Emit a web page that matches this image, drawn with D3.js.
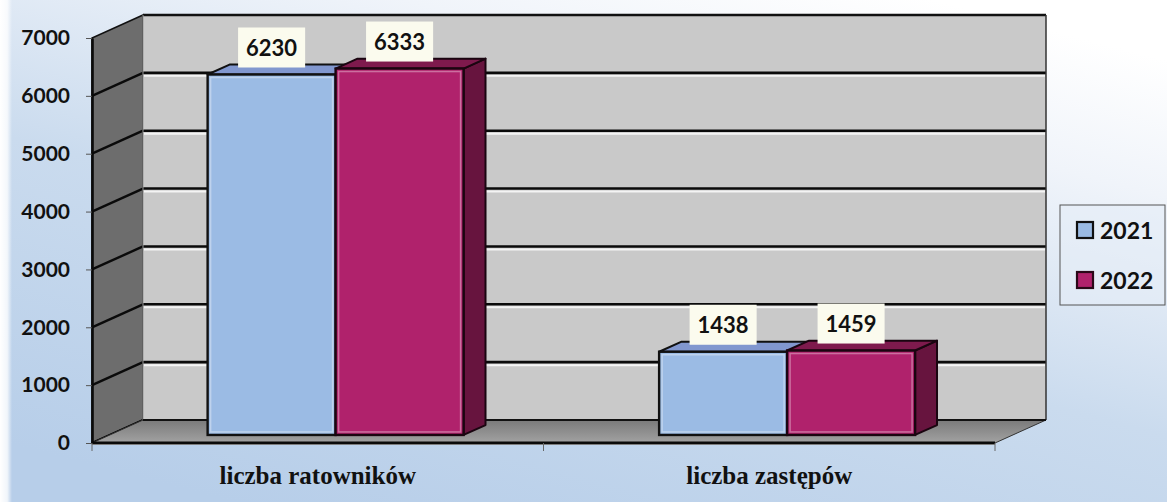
<!DOCTYPE html>
<html>
<head>
<meta charset="utf-8">
<script src="https://cdn.jsdelivr.net/npm/d3@7"></script>
<style>
  html, body { margin: 0; padding: 0; background: #fff; }
  svg { display: block; }
</style>
</head>
<body>
<svg id="chart" width="1167" height="502"></svg>
<script>
// ---- data ----
const categories = ["liczba ratowników", "liczba zastępów"];
const series = ["2021", "2022"];
const values2021 = [6230, 1438];
const values2022 = [6333, 1459];
const yTickValues = [0, 1000, 2000, 3000, 4000, 5000, 6000, 7000];

// ---- layout ----
const W = 1167, H = 502;
const svg = d3.select("#chart");
const frontLeft = 92, frontRight = 995, y0 = 443, yTop = 38;
const depthDX = 51, depthDY = -23;
const barZ0 = 0.35, barZ1 = 0.78;

const y = d3.scaleLinear().domain([0, 7000]).range([y0, yTop]);
const xCat = d3.scaleBand().domain(categories).range([frontLeft, frontRight]);
const xSer = d3.scaleBand().domain(series).range([0, xCat.bandwidth()]).paddingInner(0).paddingOuter(0.764);

const P = (x, yy, z) => [x + z * depthDX, yy + z * depthDY];
const poly = pts => "M" + pts.map(p => p.join(",")).join("L") + "Z";

// ---- background ----
const defs = svg.append("defs");
const bg = defs.append("linearGradient").attr("id", "bg")
  .attr("x1", "0.8").attr("y1", "0").attr("x2", "0.2").attr("y2", "1");
bg.append("stop").attr("offset", "0").attr("stop-color", "#ffffff");
bg.append("stop").attr("offset", "0.2").attr("stop-color", "#f0f4fa");
bg.append("stop").attr("offset", "0.55").attr("stop-color", "#cadbee");
bg.append("stop").attr("offset", "1").attr("stop-color", "#b7cee9");
svg.append("rect").attr("width", W).attr("height", H).attr("fill", "url(#bg)");
const lstrip = defs.append("linearGradient").attr("id", "lstrip").attr("x1", "0").attr("x2", "1").attr("y1", "0").attr("y2", "0");
lstrip.append("stop").attr("offset", "0").attr("stop-color", "#ffffff").attr("stop-opacity", 1);
lstrip.append("stop").attr("offset", "0.6").attr("stop-color", "#ffffff").attr("stop-opacity", 0.8);
lstrip.append("stop").attr("offset", "1").attr("stop-color", "#ffffff").attr("stop-opacity", 0);
svg.append("rect").attr("width", 12).attr("height", H).attr("fill", "url(#lstrip)");

const floorG = defs.append("linearGradient").attr("id", "floorG")
  .attr("x1", "0").attr("y1", "0").attr("x2", "0").attr("y2", "1");
floorG.append("stop").attr("offset", "0").attr("stop-color", "#7a7a7a");
floorG.append("stop").attr("offset", "1").attr("stop-color", "#a2a2a2");

// ---- walls ----
const vMax = 7000;
svg.append("path")
  .attr("d", poly([P(frontLeft, y(0), 0), P(frontLeft, y(vMax), 0), P(frontLeft, y(vMax), 1), P(frontLeft, y(0), 1)]))
  .attr("fill", "#6d6d6d").attr("stroke", "#111").attr("stroke-width", 1.5);
svg.append("path")
  .attr("d", poly([P(frontLeft, y(0), 1), P(frontLeft, y(vMax), 1), P(frontRight, y(vMax), 1), P(frontRight, y(0), 1)]))
  .attr("fill", "#c9c9c9").attr("stroke", "none");

const grid = yTickValues.filter(v => v > 0 && v < vMax);
svg.selectAll(".gridHi").data(grid).enter().append("line")
  .attr("x1", P(frontLeft, 0, 1)[0] + 1).attr("x2", P(frontRight, 0, 1)[0] - 1)
  .attr("y1", d => P(0, y(d), 1)[1] + 3).attr("y2", d => P(0, y(d), 1)[1] + 3)
  .attr("stroke", "#f4f4f4").attr("stroke-width", 2);
svg.selectAll(".gridBack").data(grid).enter().append("line")
  .attr("x1", P(frontLeft, 0, 1)[0]).attr("x2", P(frontRight, 0, 1)[0])
  .attr("y1", d => P(0, y(d), 1)[1]).attr("y2", d => P(0, y(d), 1)[1])
  .attr("stroke", "#0a0a0a").attr("stroke-width", 2.6);
svg.selectAll(".gridSide").data(grid.concat([0])).enter().append("line")
  .attr("x1", frontLeft).attr("y1", d => y(d))
  .attr("x2", P(frontLeft, 0, 1)[0]).attr("y2", d => P(0, y(d), 1)[1])
  .attr("stroke", "#0a0a0a").attr("stroke-width", 2.4);
svg.append("line")
  .attr("x1", P(frontLeft, 0, 1)[0]).attr("x2", P(frontRight, 0, 1)[0])
  .attr("y1", P(0, y(vMax), 1)[1]).attr("y2", P(0, y(vMax), 1)[1])
  .attr("stroke", "#111").attr("stroke-width", 2.4);
svg.append("line")
  .attr("x1", P(frontRight, 0, 1)[0]).attr("x2", P(frontRight, 0, 1)[0])
  .attr("y1", P(0, y(vMax), 1)[1]).attr("y2", P(0, y(0), 1)[1])
  .attr("stroke", "#333").attr("stroke-width", 1.5);
svg.append("line")
  .attr("x1", P(frontLeft, 0, 1)[0]).attr("x2", P(frontLeft, 0, 1)[0])
  .attr("y1", P(0, y(vMax), 1)[1]).attr("y2", P(0, y(0), 1)[1])
  .attr("stroke", "#9a9a9a").attr("stroke-width", 1);

// floor
svg.append("path")
  .attr("d", poly([P(frontLeft, y(0), 0), P(frontLeft, y(0), 1), P(frontRight, y(0), 1), P(frontRight, y(0), 0)]))
  .attr("fill", "url(#floorG)").attr("stroke", "#333").attr("stroke-width", 1);
svg.append("line")
  .attr("x1", P(frontLeft, 0, 1)[0]).attr("x2", P(frontRight, 0, 1)[0])
  .attr("y1", P(0, y(0), 1)[1]).attr("y2", P(0, y(0), 1)[1])
  .attr("stroke", "#111").attr("stroke-width", 2);
svg.append("line")
  .attr("x1", frontLeft).attr("x2", frontRight).attr("y1", y(0) + 1.5).attr("y2", y(0) + 1.5)
  .attr("stroke", "#f2f2f2").attr("stroke-width", 1.2);
svg.append("line")
  .attr("x1", frontLeft).attr("x2", frontRight).attr("y1", y(0)).attr("y2", y(0))
  .attr("stroke", "#0a0a0a").attr("stroke-width", 3);

// ---- bars ----
const colors = {
  "2021": { front: "#9bbbe4", top: "#8197cf", side: "#6d84b8", stroke: "#111" },
  "2022": { front: "#b0226c", top: "#7e1a4d", side: "#67143e", stroke: "#1a0510" }
};
const barData = [];
categories.forEach((c, i) => {
  barData.push({ cat: c, ser: "2021", value: values2021[i] });
  barData.push({ cat: c, ser: "2022", value: values2022[i] });
});

const barG = svg.append("g");
barData.forEach(d => {
  const xl = xCat(d.cat) + xSer(d.ser), xr = xl + xSer.bandwidth();
  const yb = y(0), yt = y(d.value);
  const col = colors[d.ser];
  const g = barG.append("g");
  g.append("path").attr("d", poly([P(xr, yb, barZ0), P(xr, yt, barZ0), P(xr, yt, barZ1), P(xr, yb, barZ1)]))
    .attr("fill", col.side).attr("stroke", col.stroke).attr("stroke-width", 2).attr("stroke-linejoin", "round");
  g.append("path").attr("d", poly([P(xl, yt, barZ0), P(xl, yt, barZ1), P(xr, yt, barZ1), P(xr, yt, barZ0)]))
    .attr("fill", col.top).attr("stroke", col.stroke).attr("stroke-width", 2).attr("stroke-linejoin", "round");
  const f0 = P(xl, yt, barZ0), f1 = P(xr, yb, barZ0);
  g.append("rect").attr("x", f0[0]).attr("y", f0[1]).attr("width", f1[0] - f0[0]).attr("height", f1[1] - f0[1])
    .attr("fill", col.front).attr("stroke", col.stroke).attr("stroke-width", 2.4);
  g.append("rect").attr("x", f0[0] + 3).attr("y", f0[1] + 3).attr("width", f1[0] - f0[0] - 6).attr("height", f1[1] - f0[1] - 6)
    .attr("fill", "none").attr("stroke", "#ffffff").attr("stroke-opacity", 0.35).attr("stroke-width", 1.5);
});

// ---- value labels ----
const lblG = svg.append("g");
barData.forEach(d => {
  const xl = xCat(d.cat) + xSer(d.ser), xr = xl + xSer.bandwidth();
  const cx = P((xl + xr) / 2, 0, barZ0)[0];
  const topFront = P(0, y(d.value), barZ0)[1];
  const boxBottom = topFront - 7, boxH = 40;
  const g = lblG.append("g");
  const rect = g.append("rect").attr("fill", "#fbfbee");
  const t = g.append("text").attr("x", cx).attr("y", boxBottom - boxH / 2)
    .attr("text-anchor", "middle").attr("dominant-baseline", "central")
    .style("font-family", "Lato, 'Open Sans', sans-serif").style("font-weight", "bold")
    .style("font-size", "22px").attr("fill", "#111").text(d.value);
  const w = t.node().getComputedTextLength() + 16;
  rect.attr("x", cx - w / 2).attr("y", boxBottom - boxH).attr("width", w).attr("height", boxH);
});

// ---- y axis ----
const yAxis = d3.axisLeft(y).tickValues(yTickValues).tickSize(6).tickSizeOuter(0).tickPadding(16).tickFormat(d3.format("d"));
const yG = svg.append("g").attr("transform", `translate(${frontLeft},0)`).call(yAxis);
yG.select(".domain").attr("stroke", "#0a0a0a").attr("stroke-width", 2.6);
yG.selectAll(".tick line").attr("stroke", "#555").attr("stroke-width", 1);
yG.selectAll(".tick text").style("font-family", "Lato, 'Open Sans', sans-serif").style("font-weight", "bold")
  .style("font-size", "21px").attr("fill", "#111");

// ---- category axis ----
const xAxis = d3.axisBottom(xCat).tickSize(0).tickPadding(0);
const xG = svg.append("g").attr("transform", `translate(0,${y0})`).call(xAxis)
  .attr("font-family", "'Liberation Serif', serif");
xG.select(".domain").remove();
xG.selectAll(".tick text").attr("y", 41).attr("dy", 0)
  .attr("font-family", "'Liberation Serif', serif")
  .style("font-family", "'Liberation Serif', serif").style("font-weight", "bold")
  .style("font-size", "25px").attr("fill", "#111");
const bounds = categories.map(c => xCat(c)).concat([frontRight]);
svg.selectAll(".catTick").data(bounds).enter().append("line")
  .attr("x1", d => d).attr("x2", d => d).attr("y1", y0).attr("y2", y0 + 8)
  .attr("stroke", "#666").attr("stroke-width", 1);

// ---- legend ----
const lg = svg.append("g").attr("transform", "translate(1060,205)");
lg.append("rect").attr("width", 105).attr("height", 100).attr("fill", "#e4edf7").attr("fill-opacity", 0.6)
  .attr("stroke", "#555").attr("stroke-width", 1);
series.forEach((s, i) => {
  const gy = 25 + i * 50;
  lg.append("rect").attr("x", 17).attr("y", gy - 8).attr("width", 16).attr("height", 16)
    .attr("fill", colors[s].front).attr("stroke", i === 0 ? "#111" : "#2a0818").attr("stroke-width", 2.2);
  lg.append("text").attr("x", 40).attr("y", gy).attr("dominant-baseline", "central")
    .style("font-family", "Lato, 'Open Sans', sans-serif").style("font-weight", "bold")
    .style("font-size", "23px").attr("fill", "#111").text(s);
});
</script>
</body>
</html>
